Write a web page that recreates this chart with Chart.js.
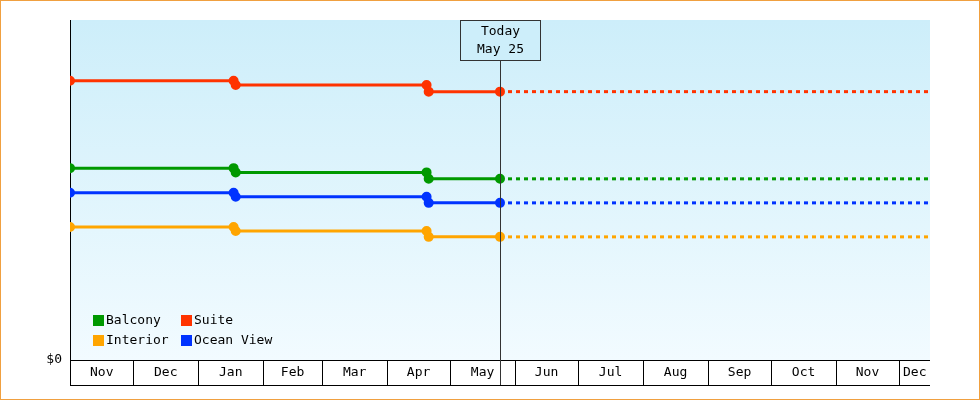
<!DOCTYPE html>
<html><head><meta charset="utf-8">
<script src="https://cdn.jsdelivr.net/npm/chart.js@4"></script>
<style>html,body{margin:0;padding:0;background:#fff}#w{width:980px;height:400px}</style>
</head><body><div id="w"><canvas id="c" width="980" height="400"></canvas></div>
<script>
// x = days since Nov 1
const monthLabels = ["Nov","Dec","Jan","Feb","Mar","Apr","May","Jun","Jul","Aug","Sep","Oct","Nov","Dec"];
const monthStarts = [0,30,61,92,120,151,181,212,242,273,304,334,365,395,410];
const priceDays = [0,78,79,170,171,205];
const todayDay = 205, endDay = 410;
const todayLabel = ["Today","May 25"];
const seriesNames = ["Balcony","Suite","Interior","Ocean View"];
const seriesColors = ["#009900","#ff3300","#ffa500","#0033ff"];
const balcony   = [1580,1580,1545,1545,1492,1492];
const suite     = [2300,2300,2265,2265,2210,2210];
const interior  = [1096,1096,1063,1063,1014,1014];
const oceanView = [1377,1377,1344,1344,1294,1294];
const allSeries = [balcony,suite,interior,oceanView];
const FONT = "DejaVu Sans Mono";

const datasets = [];
allSeries.forEach((s,i)=>{
  datasets.push({label:seriesNames[i],data:priceDays.map((d,j)=>({x:d,y:s[j]})),
    borderColor:seriesColors[i],backgroundColor:seriesColors[i],borderWidth:3,
    pointRadius:priceDays.map((d,j)=>(j===0||j>=1)?3.5:0),pointHoverRadius:3.5,tension:0});
  datasets.push({label:'_'+seriesNames[i],data:[{x:todayDay,y:s[s.length-1]},{x:endDay,y:s[s.length-1]}],
    borderColor:seriesColors[i],borderWidth:3,borderDash:[4,4],pointRadius:0});
});

const deco = {
  id:'deco',
  beforeDraw(ch){
    const {ctx,chartArea:a}=ch;
    const g=ctx.createLinearGradient(0,a.top,0,a.bottom);
    g.addColorStop(0,'#cdeefa');g.addColorStop(1,'#f2fbff');
    ctx.fillStyle=g;ctx.fillRect(a.left,a.top,a.right-a.left,a.bottom-a.top);
  },
  afterDraw(ch){
    const {ctx,chartArea:a,scales:{x}}=ch;
    ctx.save();
    // x axis month boxes
    ctx.strokeStyle='#000';ctx.lineWidth=1;ctx.font='13px "'+FONT+'"';
    ctx.fillStyle='#000';ctx.textAlign='center';ctx.textBaseline='middle';
    ctx.beginPath();ctx.moveTo(a.left,a.bottom+0.5);ctx.lineTo(a.right,a.bottom+0.5);
    ctx.moveTo(a.left,a.bottom+25.5);ctx.lineTo(a.right,a.bottom+25.5);ctx.stroke();
    for(let i=0;i<monthLabels.length;i++){
      const x0=Math.round(x.getPixelForValue(monthStarts[i]))+0.5,x1=x.getPixelForValue(monthStarts[i+1]);
      ctx.beginPath();ctx.moveTo(x0,a.bottom);ctx.lineTo(x0,a.bottom+25);ctx.stroke();
      ctx.fillText(monthLabels[i],(x0+x1)/2,a.bottom+13);
    }
    // today line
    const tx=Math.round(x.getPixelForValue(todayDay))+0.5;
    ctx.strokeStyle='#333';
    ctx.beginPath();ctx.moveTo(tx,a.top+40);ctx.lineTo(tx,a.bottom+25);ctx.stroke();
    ctx.fillStyle='#cdeefa';ctx.fillRect(tx-40,a.top,80,40);
    ctx.strokeRect(tx-40,a.top+0.5,80,40);
    ctx.fillStyle='#000';
    ctx.fillText(todayLabel[0],tx,a.top+12);ctx.fillText(todayLabel[1],tx,a.top+30);
    // legend
    const pos=[[95,320],[183,320],[95,340],[183,340]];
    ctx.textAlign='left';
    seriesNames.forEach((n,i)=>{
      ctx.fillStyle=seriesColors[i];ctx.fillRect(pos[i][0]-2,pos[i][1]-5,11,11);
      ctx.fillStyle='#000';ctx.fillText(n,pos[i][0]+11,pos[i][1]+1);
    });
    // border
    ctx.strokeStyle='#f0a040';ctx.strokeRect(0.5,0.5,979,399);
    ctx.restore();
  }
};

new Chart(document.getElementById('c'),{
  type:'line',data:{datasets},
  options:{responsive:false,animation:false,
    layout:{padding:{left:0,right:50,top:20,bottom:40}},
    plugins:{legend:{display:false},tooltip:{enabled:false}},
    scales:{
      x:{type:'linear',min:0,max:endDay,display:false},
      y:{min:0,max:2800,afterFit(s){s.width=70;},
        grid:{display:false,drawTicks:true,tickLength:6,tickColor:'#000'},
        border:{color:'#000',width:1},
        ticks:{stepSize:600,color:'#000',font:{family:FONT,size:13},padding:2,
          callback:v=>v%600===0?'$'+v.toLocaleString('en-US'):''}}
    }},
  plugins:[deco]
});
</script></body></html>
